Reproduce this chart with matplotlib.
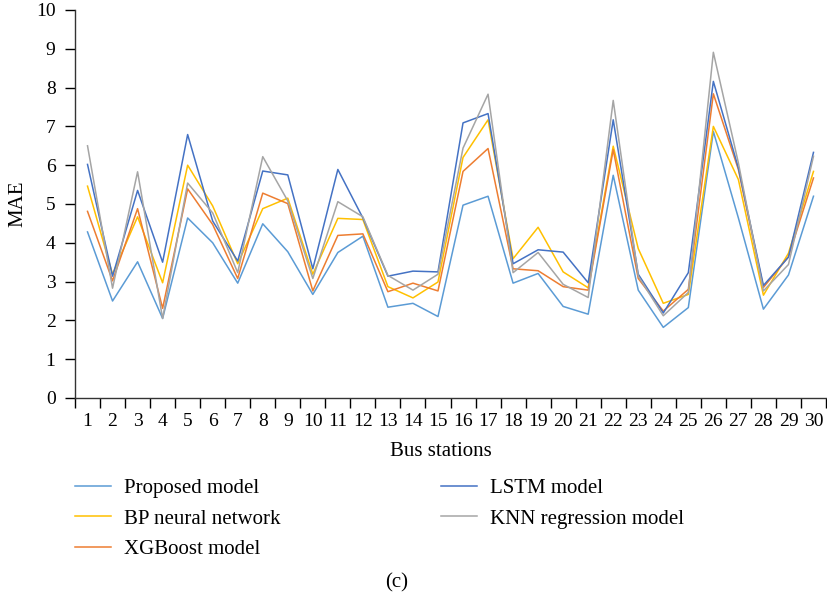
import matplotlib
matplotlib.use("Agg")
import matplotlib.pyplot as plt
import numpy as np

stations = list(range(1, 31))
proposed = [4.28, 2.50, 3.51, 2.05, 4.64, 4.00, 2.96, 4.49, 3.77, 2.67,
            3.75, 4.17, 2.34, 2.44, 2.10, 4.97, 5.20, 2.96, 3.21, 2.36,
            2.16, 5.74, 2.78, 1.82, 2.33, 6.87, 4.64, 2.29, 3.17, 5.20]
lstm = [6.02, 3.14, 5.35, 3.50, 6.79, 4.56, 3.53, 5.85, 5.75, 3.33,
        5.89, 4.64, 3.14, 3.27, 3.25, 7.09, 7.33, 3.46, 3.82, 3.76,
        2.97, 7.17, 3.19, 2.19, 3.23, 8.16, 5.93, 2.90, 3.63, 6.33]
bp = [5.46, 3.19, 4.67, 2.97, 6.00, 4.95, 3.46, 4.88, 5.15, 3.19,
      4.63, 4.60, 2.87, 2.58, 2.99, 6.20, 7.17, 3.59, 4.40, 3.25,
      2.84, 6.49, 3.85, 2.44, 2.67, 7.00, 5.63, 2.65, 3.73, 5.84]
xgb = [4.81, 3.02, 4.88, 2.31, 5.39, 4.47, 3.08, 5.28, 5.01, 2.76,
       4.19, 4.23, 2.74, 2.96, 2.76, 5.84, 6.43, 3.33, 3.28, 2.87,
       2.78, 6.40, 3.08, 2.24, 2.80, 7.84, 5.89, 2.85, 3.64, 5.67]
knn = [6.50, 2.83, 5.83, 2.05, 5.54, 4.77, 3.23, 6.22, 5.08, 3.08,
       5.06, 4.67, 3.16, 2.78, 3.19, 6.44, 7.83, 3.23, 3.75, 2.93,
       2.59, 7.67, 3.14, 2.12, 2.72, 8.91, 6.06, 2.76, 3.44, 6.23]

names = ["Proposed model", "BP neural network", "XGBoost model",
         "LSTM model", "KNN regression model"]
series = [proposed, bp, xgb, lstm, knn]
colors = ["#5B9BD5", "#FFC000", "#ED7D31", "#4472C4", "#A5A5A5"]

plt.rcParams['font.family'] = ['Liberation Serif', 'DejaVu Serif']

fig = plt.figure(figsize=(8.27, 6.01), dpi=100)
ax = fig.add_axes([75/827, 203/601, 751/827, 388/601])

handles = []
for vals, c, n in zip(series, colors, names):
    h, = ax.plot(stations, vals, color=c, lw=1.1, label=n)
    handles.append(h)

ax.set_xlim(0.5, 30.5)
ax.set_ylim(0, 10)
ax.set_yticks(range(0, 11))
ax.tick_params(axis='y', direction='out', length=7, width=1, labelsize=14, pad=7)
ax.set_xticks(np.arange(0.5, 31, 1))
ax.set_xticklabels([])
ax.tick_params(axis='x', which='major', direction='out', length=7, width=1)
ax.set_xticks(stations, minor=True)
ax.set_xticklabels([str(s) for s in stations], minor=True)
ax.tick_params(axis='x', which='minor', length=0, labelsize=14, pad=11)
for s in ['top', 'right']:
    ax.spines[s].set_visible(False)
for s in ['left', 'bottom']:
    ax.spines[s].set_linewidth(1.0)
    ax.spines[s].set_color('#333333')

ax.set_xlabel("Bus stations", fontsize=15)
ax.xaxis.set_label_coords((441 - 75) / 751, (398 - 442) / 388)
ax.set_ylabel("MAE", fontsize=15)
ax.yaxis.set_label_coords((27 - 75) / 751, 0.5)

fig.legend(handles=handles, labels=names, ncol=2, loc='upper left',
           bbox_to_anchor=(56/827, 1 - 460/601), frameon=False, fontsize=15,
           handlelength=1.75, handletextpad=0.62, columnspacing=7.7,
           labelspacing=0.52)

fig.text(397/827, 1 - 583/601, "(c)", ha='center', va='center', fontsize=15)

fig.savefig("out.png", dpi=100)
